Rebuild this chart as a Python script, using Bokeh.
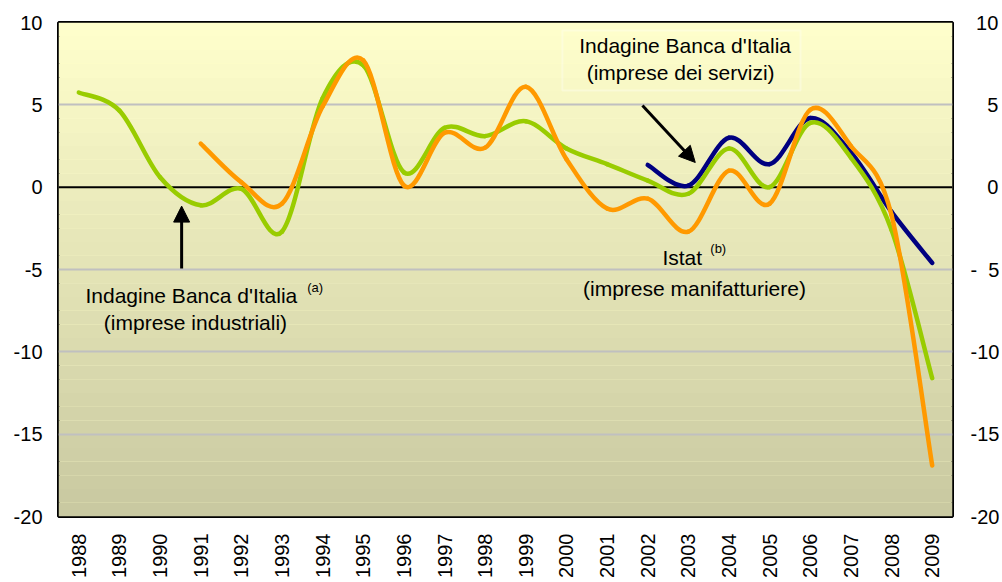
import numpy as np
from bokeh.plotting import figure
from bokeh.models import (Range1d, FixedTicker, Label, Arrow, NormalHead,
                          BoxAnnotation, Span, ColumnDataSource, LinearAxis)
from bokeh.embed import file_html
from bokeh.resources import INLINE

# ---------------- data ----------------
years = list(range(1988, 2010))
industriali = [5.75, 4.65, 0.6, -1.1, -0.1, -2.7, 5.4, 7.4, 0.9, 3.6, 3.1,
               4.0, 2.35, 1.4, 0.4, -0.4, 2.35, 0.0, 3.9, 1.8, -2.6, -11.6]
istat_years = list(range(1991, 2010))
istat = [2.65, 0.3, -1.0, 4.9, 7.7, 0.1, 3.3, 2.4, 6.1, 1.7, -1.3, -0.7,
         -2.7, 1.0, -1.0, 4.7, 2.5, -1.7, -16.9]
servizi_years = list(range(2002, 2010))
servizi = [1.35, 0.1, 3.0, 1.4, 4.2, 2.1, -1.5, -4.6]

y_ticks = [-20, -15, -10, -5, 0, 5, 10]
left_tick_labels = ["-20", "-15", "-10", "-5", "0", "5", "10"]
NB = "\u00a0"
right_tick_labels = ["-20", "-15", "-10", "-" + NB * 2 + "5", NB * 3 + "0",
                     NB * 3 + "5", NB + "10"]

FONT = "Liberation Sans"

p = figure(width=1002, height=582,
           x_range=Range1d(1987.5, 2009.5), y_range=Range1d(-20, 10),
           output_backend="svg", toolbar_location=None,
           min_border_left=58, min_border_right=50,
           min_border_top=22, min_border_bottom=66)
p.background_fill_color = "#FFFFCC"
p.border_fill_color = "white"
p.outline_line_color = "black"
p.outline_line_width = 3

# gradient background (stepped bands)
top_c = np.array([255, 255, 204])
bot_c = np.array([200, 200, 160])
nb = 36
edges = np.linspace(10, -20, nb + 1)
for i in range(nb):
    t = (i + 0.5) / nb
    c = top_c + (bot_c - top_c) * t
    col = "#%02x%02x%02x" % tuple(int(round(v)) for v in c)
    p.add_layout(BoxAnnotation(top=edges[i], bottom=edges[i + 1],
                               fill_color=col, fill_alpha=1.0,
                               line_color=None, level="image"))

# axes
right_axis = LinearAxis()
p.add_layout(right_axis, "right")

p.xaxis.ticker = FixedTicker(ticks=years)
p.xaxis.major_label_overrides = {y: str(y) for y in years}
p.xaxis.major_label_orientation = np.pi / 2
p.xaxis.major_label_standoff = 17
p.yaxis[0].ticker = FixedTicker(ticks=y_ticks)
p.yaxis[0].major_label_overrides = dict(zip(y_ticks, left_tick_labels))
p.yaxis[0].major_label_standoff = 16
right_axis.ticker = FixedTicker(ticks=y_ticks)
right_axis.major_label_overrides = dict(zip(y_ticks, right_tick_labels))
right_axis.major_label_standoff = 18
for ax in [p.xaxis[0], p.yaxis[0], right_axis]:
    ax.axis_line_color = None
    ax.major_tick_line_color = None
    ax.minor_tick_line_color = None
    ax.major_tick_in = 0
    ax.major_tick_out = 0
    ax.minor_tick_in = 0
    ax.minor_tick_out = 0
    ax.major_label_text_font = FONT
    ax.major_label_text_font_size = "20px"
    ax.major_label_text_color = "black"

p.xgrid.grid_line_color = None
p.ygrid.ticker = FixedTicker(ticks=[-15, -10, -5, 5])
p.ygrid.grid_line_color = "#C0C0C0"
p.ygrid.grid_line_width = 2
p.ygrid.level = "underlay"

p.add_layout(Span(location=0, dimension="width", line_color="black",
                  line_width=2, level="underlay"))


def smooth_segments(xs, ys):
    P = np.column_stack([xs, ys]).astype(float)
    n = len(P)
    d = dict(x0=[], y0=[], x1=[], y1=[], cx0=[], cy0=[], cx1=[], cy1=[])
    for i in range(n - 1):
        a = P[i - 1] if i > 0 else P[i]
        b = P[i + 2] if i + 2 < n else P[i + 1]
        c1 = P[i] + (P[i + 1] - a) / 6.0
        c2 = P[i + 1] - (b - P[i]) / 6.0
        d["x0"].append(P[i][0]); d["y0"].append(P[i][1])
        d["x1"].append(P[i + 1][0]); d["y1"].append(P[i + 1][1])
        d["cx0"].append(c1[0]); d["cy0"].append(c1[1])
        d["cx1"].append(c2[0]); d["cy1"].append(c2[1])
    return ColumnDataSource(d)


for xs, ys, col in [(servizi_years, servizi, "#000080"),
                    (years, industriali, "#99CC00"),
                    (istat_years, istat, "#FF9900")]:
    p.bezier(x0="x0", y0="y0", x1="x1", y1="y1", cx0="cx0", cy0="cy0",
             cx1="cx1", cy1="cy1", source=smooth_segments(xs, ys),
             line_color=col, line_width=4.5, line_cap="round")

# annotations
def txt(x, y, s, size="21px", align="center"):
    p.add_layout(Label(x=x, y=y, text=s, text_align=align,
                       text_baseline="middle", text_font=FONT,
                       text_font_size=size, text_color="black"))

txt(1990.77, -6.58, "Indagine Banca d'Italia")
txt(1990.87, -8.22, "(imprese industriali)")
txt(1993.62, -6.09, "(a)", size="13px", align="left")
p.add_layout(Arrow(end=NormalHead(size=16, fill_color="black", line_color="black"),
                   x_start=1990.53, y_start=-4.94, x_end=1990.53, y_end=-1.15,
                   line_width=3, line_color="black"))

p.add_layout(BoxAnnotation(left=1999.90, right=2005.76, top=9.51, bottom=5.87,
                           fill_color=None, fill_alpha=0, line_color="white",
                           line_width=2, level="annotation"))
txt(2002.92, 8.6, "Indagine Banca d'Italia")
txt(2002.81, 6.97, "(imprese dei servizi)")
p.add_layout(Arrow(end=NormalHead(size=16, fill_color="black", line_color="black"),
                   x_start=2001.87, y_start=4.96, x_end=2003.17, y_end=1.5,
                   line_width=3, line_color="black"))

txt(2002.85, -4.27, "Istat")
txt(2003.54, -3.73, "(b)", size="13px", align="left")
txt(2003.15, -6.15, "(imprese manifatturiere)")

open("out.html", "w").write(file_html(p, INLINE))
